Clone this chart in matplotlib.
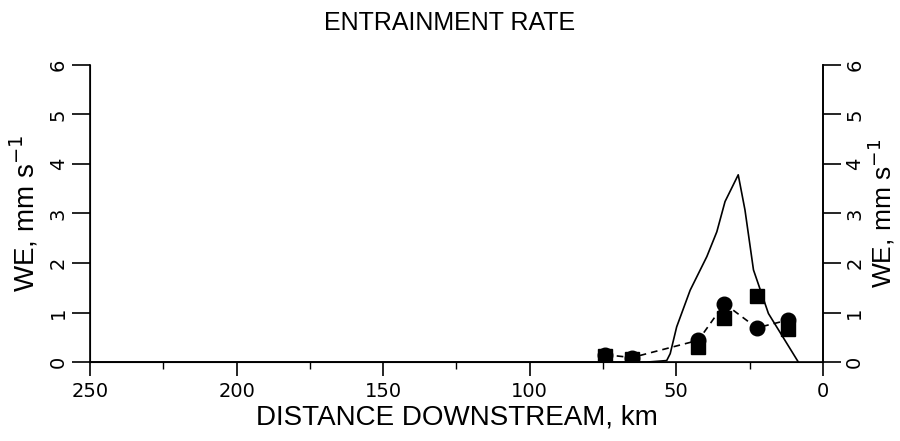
import matplotlib.pyplot as plt
from matplotlib.ticker import MultipleLocator

plt.rcParams['font.family'] = ['DejaVu Sans']

# model curve (solid)
model_x = [250, 200, 150, 100, 60, 53.3, 52.1, 49.9, 45.3, 39.6, 36.2, 33.4, 28.9, 26.6, 23.7, 18.6, 8.4]
model_y = [0, 0, 0, 0, 0, 0.03, 0.17, 0.71, 1.45, 2.13, 2.63, 3.24, 3.78, 3.07, 1.86, 0.98, 0.0]

# observations
obs_x = [74.3, 65.2, 42.5, 33.6, 22.6, 11.8]
circle_y = [0.15, 0.09, 0.44, 1.18, 0.69, 0.85]
square_y = [0.12, 0.07, 0.31, 0.88, 1.33, 0.67]

y_ticks = [0, 1, 2, 3, 4, 5, 6]
label_font = ['Liberation Sans', 'DejaVu Sans']

fig = plt.figure(figsize=(9, 4.41), dpi=100)
ax = fig.add_axes([0.1, 0.179, 0.8144, 0.674])

ax.plot(model_x, model_y, color='black', lw=1.2)
ax.plot(obs_x, circle_y, 'k--', lw=1.2, marker='o', ms=10.5, dashes=(4, 3))
ax.plot(obs_x, square_y, 'ks', ms=9.5, linestyle='none')

ax.set_xlim(250, 0)
ax.set_ylim(0, 6)
ax.xaxis.set_major_locator(MultipleLocator(50))
ax.xaxis.set_minor_locator(MultipleLocator(25))
ax.set_yticks(y_ticks)

ax.spines['top'].set_visible(False)
for s in ['left', 'right', 'bottom']:
    ax.spines[s].set_linewidth(1.2)

ax.tick_params(axis='x', which='major', length=10, width=1.2, labelsize=14, direction='out', pad=4)
ax.tick_params(axis='x', which='minor', length=5, width=1.0, direction='out')
ax.tick_params(axis='y', length=13, width=1.2, labelsize=14, direction='out',
               labelrotation=90, pad=3)
for lab in ax.get_yticklabels():
    lab.set_va('center')

ax.set_xlabel('DISTANCE DOWNSTREAM, km', fontsize=20, family=label_font, labelpad=3)
ax.set_ylabel('WE, mm s$^{-1}$', fontsize=20, family=label_font, labelpad=6)

# right hand axis, same scale
ax2 = ax.twinx()
ax2.set_ylim(0, 6)
ax2.set_yticks(y_ticks)
ax2.spines['top'].set_visible(False)
ax2.spines['right'].set_linewidth(1.2)
ax2.tick_params(axis='y', length=13, width=1.2, labelsize=14, direction='out',
                labelrotation=90, pad=3)
for lab in ax2.get_yticklabels():
    lab.set_va('center')
ax2.set_ylabel('WE, mm s$^{-1}$', fontsize=19, family=label_font, rotation=90, labelpad=1)

fig.suptitle('ENTRAINMENT RATE', fontsize=18, family=label_font, y=0.975)

fig.savefig('out.png', dpi=100)
